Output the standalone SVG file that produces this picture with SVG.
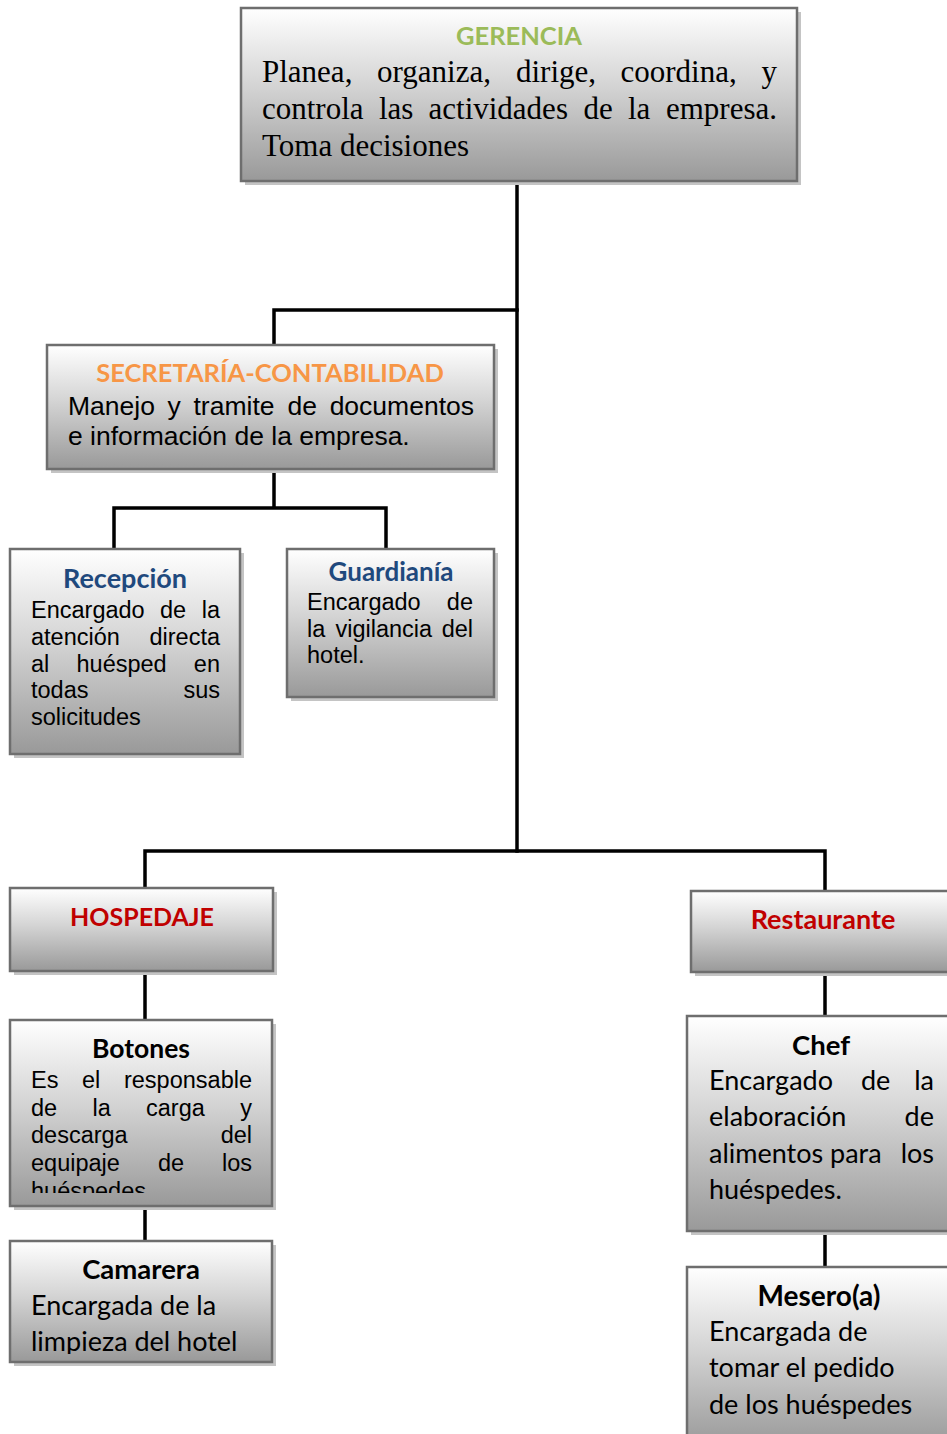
<svg xmlns="http://www.w3.org/2000/svg" width="947" height="1434" viewBox="0 0 947 1434">
<defs>
<linearGradient id="g" x1="0" y1="0" x2="0" y2="1">
<stop offset="0" stop-color="#ffffff"/>
<stop offset="0.45" stop-color="#d4d4d4"/>
<stop offset="1" stop-color="#999999"/>
</linearGradient>
<clipPath id="clipBot"><rect x="10" y="1020" width="262" height="173"/></clipPath>
<clipPath id="clipCam"><rect x="10" y="1241" width="262" height="113"/></clipPath>
</defs>
<style>
.sh{fill:#c4c4c4}
.bx{fill:url(#g);stroke:#6e6e6e;stroke-width:2.5}
.ln{stroke:#000;stroke-width:3.5;fill:none;stroke-linecap:square}
.tt{font-family:"Lato","Open Sans",sans-serif;font-weight:bold;text-anchor:middle}
.ser{font-family:"Liberation Serif","Times New Roman",serif;font-size:31px;fill:#000}
.ar{font-family:"Liberation Sans",Arial,sans-serif;font-size:23.5px;fill:#000}
.arL{font-family:"Liberation Sans",Arial,sans-serif;font-size:26.5px;fill:#000}
.ca{font-family:"Lato","Open Sans",sans-serif;font-size:27px;fill:#000}
.e{text-anchor:end}
</style>
<g id="connectors">
<path class="ln" d="M517 181 V851"/>
<path class="ln" d="M274 310 H517 M274 310 V345"/>
<path class="ln" d="M274 469 V508 M114 508 H386 M114 508 V549 M386 508 V549"/>
<path class="ln" d="M145 851 H825 M145 851 V888 M825 851 V891"/>
<path class="ln" d="M145 971 V1020 M145 1206 V1241"/>
<path class="ln" d="M825 972 V1016 M825 1231 V1267"/>
</g>
<g id="gerencia">
<rect class="sh" x="245" y="12" width="556" height="173"/>
<rect class="bx" x="241" y="8" width="556" height="173"/>
<text class="tt" x="519" y="45" font-size="25.5" fill="#9bbb59">GERENCIA</text>
<text class="ser" y="82"><tspan x="262">Planea,</tspan><tspan x="377">organiza,</tspan><tspan x="516">dirige,</tspan><tspan x="620.5">coordina,</tspan><tspan x="777" class="e">y</tspan></text>
<text class="ser" y="119"><tspan x="262">controla</tspan><tspan x="379">las</tspan><tspan x="428.5">actividades</tspan><tspan x="583.5">de</tspan><tspan x="628">la</tspan><tspan x="777" class="e">empresa.</tspan></text>
<text class="ser" y="156" x="262">Toma decisiones</text>
</g>
<g id="secretaria">
<rect class="sh" x="51" y="349" width="447" height="124"/>
<rect class="bx" x="47" y="345" width="447" height="124"/>
<text class="tt" x="270" y="382" font-size="25.5" fill="#f79646">SECRETARÍA-CONTABILIDAD</text>
<text class="arL" y="415"><tspan x="68">Manejo</tspan><tspan x="167.5">y</tspan><tspan x="193.5">tramite</tspan><tspan x="287.5">de</tspan><tspan x="474" class="e">documentos</tspan></text>
<text class="arL" y="445" x="68">e información de la empresa.</text>
</g>
<g id="recepcion">
<rect class="sh" x="14" y="553" width="230" height="205"/>
<rect class="bx" x="10" y="549" width="230" height="205"/>
<text class="tt" x="125" y="588" font-size="27" fill="#1f497d">Recepción</text>
<text class="ar" y="618"><tspan x="31">Encargado</tspan><tspan x="160">de</tspan><tspan x="220" class="e">la</tspan></text>
<text class="ar" y="645"><tspan x="31">atención</tspan><tspan x="220" class="e">directa</tspan></text>
<text class="ar" y="672"><tspan x="31">al</tspan><tspan x="76.5">huésped</tspan><tspan x="220" class="e">en</tspan></text>
<text class="ar" y="698"><tspan x="31">todas</tspan><tspan x="220" class="e">sus</tspan></text>
<text class="ar" y="725" x="31">solicitudes</text>
</g>
<g id="guardiania">
<rect class="sh" x="291" y="553" width="207" height="148"/>
<rect class="bx" x="287" y="549" width="207" height="148"/>
<text class="tt" x="391" y="581" font-size="26" fill="#1f497d">Guardianía</text>
<text class="ar" y="610"><tspan x="307">Encargado</tspan><tspan x="473" class="e">de</tspan></text>
<text class="ar" y="637"><tspan x="307">la</tspan><tspan x="335.5">vigilancia</tspan><tspan x="473" class="e">del</tspan></text>
<text class="ar" y="663" x="307">hotel.</text>
</g>
<g id="hospedaje">
<rect class="sh" x="14" y="892" width="263" height="83"/>
<rect class="bx" x="10" y="888" width="263" height="83"/>
<text class="tt" x="142" y="926" font-size="25" fill="#c00000">HOSPEDAJE</text>
</g>
<g id="botones">
<rect class="sh" x="14" y="1024" width="262" height="186"/>
<rect class="bx" x="10" y="1020" width="262" height="186"/>
<text class="tt" x="141" y="1058" font-size="26.5" fill="#000">Botones</text>
<g clip-path="url(#clipBot)">
<text class="ar" y="1088"><tspan x="31">Es</tspan><tspan x="82">el</tspan><tspan x="252" class="e">responsable</tspan></text>
<text class="ar" y="1116"><tspan x="31">de</tspan><tspan x="92.5">la</tspan><tspan x="146">carga</tspan><tspan x="252" class="e">y</tspan></text>
<text class="ar" y="1143"><tspan x="31">descarga</tspan><tspan x="252" class="e">del</tspan></text>
<text class="ar" y="1171"><tspan x="31">equipaje</tspan><tspan x="158">de</tspan><tspan x="252" class="e">los</tspan></text>
<text class="ar" y="1199" x="31">huéspedes</text>
</g>
</g>
<g id="camarera">
<rect class="sh" x="14" y="1245" width="262" height="121"/>
<rect class="bx" x="10" y="1241" width="262" height="121"/>
<text class="tt" x="141" y="1279" font-size="27.5" fill="#000">Camarera</text>
<g clip-path="url(#clipCam)">
<text class="ca" x="31" y="1315">Encargada de la</text>
<text class="ca" x="31" y="1351">limpieza del hotel</text>
</g>
</g>
<g id="restaurante">
<rect class="sh" x="695" y="895" width="270" height="81"/>
<rect class="bx" x="691" y="891" width="270" height="81"/>
<text class="tt" x="823" y="929" font-size="27" fill="#c00000">Restaurante</text>
</g>
<g id="chef">
<rect class="sh" x="691" y="1020" width="274" height="215"/>
<rect class="bx" x="687" y="1016" width="274" height="215"/>
<text class="tt" x="821" y="1055" font-size="27.5" fill="#000">Chef</text>
<text class="ca" y="1090"><tspan x="709">Encargado</tspan><tspan x="861">de</tspan><tspan x="934" class="e">la</tspan></text>
<text class="ca" y="1126"><tspan x="709">elaboración</tspan><tspan x="934" class="e">de</tspan></text>
<text class="ca" y="1163"><tspan x="709">alimentos</tspan><tspan x="830">para</tspan><tspan x="934" class="e">los</tspan></text>
<text class="ca" y="1199" x="709">huéspedes.</text>
</g>
<g id="mesero">
<rect class="sh" x="691" y="1271" width="274" height="180"/>
<rect class="bx" x="687" y="1267" width="274" height="180"/>
<text class="tt" x="819" y="1306" font-size="28" fill="#000">Mesero(a)</text>
<text class="ca" x="709" y="1341">Encargada de</text>
<text class="ca" x="709" y="1377">tomar el pedido</text>
<text class="ca" x="709" y="1414">de los huéspedes</text>
</g>
</svg>
